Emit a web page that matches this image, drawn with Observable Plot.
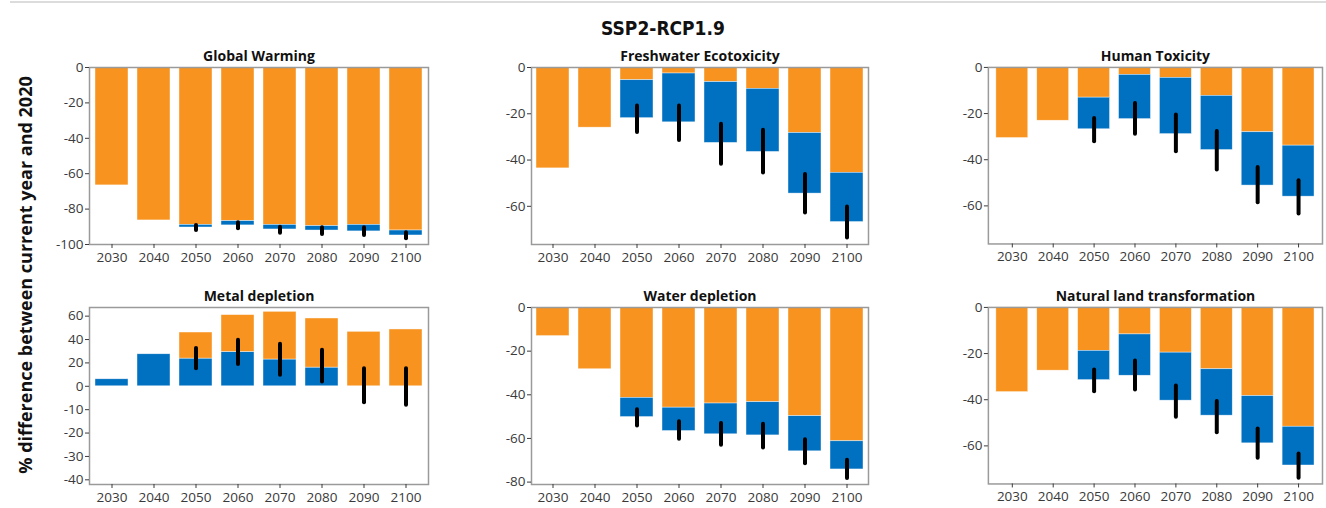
<!DOCTYPE html>
<html><head><meta charset="utf-8">
<script src="https://cdn.jsdelivr.net/npm/d3@7"></script>
<script src="https://cdn.jsdelivr.net/npm/@observablehq/plot@0.6"></script>
<style>
body{margin:0;background:#fff;}
#wrap{position:relative;width:1326px;height:508px;overflow:hidden;font-family:"Open Sans",sans-serif;background:#fff;}
.panel{position:absolute;}
#topline{position:absolute;left:10px;top:1px;width:1316px;height:2px;background:#dcdcdc;}
#title{position:absolute;left:0;width:1326px;top:17px;text-align:center;font-weight:bold;font-size:19px;font-family:"Liberation Sans Narrow","DejaVu Sans Condensed","Open Sans",sans-serif;color:#111;}
#ylabel{position:absolute;left:25px;top:275px;transform:translate(-50%,-50%) rotate(-90deg);white-space:nowrap;font-weight:bold;font-size:18px;color:#111;}
</style></head>
<body>
<div id="wrap">
  <div id="topline"></div>
  <div id="title">SSP2-RCP1.9</div>
  <div id="ylabel">% difference between current year and 2020</div>
</div>
<script>
const years = [2030, 2040, 2050, 2060, 2070, 2080, 2090, 2100];

// Global Warming
const gwFirst  = [-66.6, -86.4, -88.9, -86.8, -88.9, -89.6, -88.9, -92.1];
const gwSecond = [null, null, -90.4, -89.2, -91.5, -92.1, -92.6, -94.9];
const gwErrLo  = [null, null, -92.1, -91.1, -93.6, -94.3, -94.9, -96.8];
const gwErrHi  = [null, null, -89.2, -87.7, -90.2, -90.6, -90.6, -93.4];
const gwTicks  = [0, -20, -40, -60, -80, -100];

// Freshwater Ecotoxicity
const fwFirst  = [-43.6, -26.0, -5.5, -2.6, -6.3, -9.2, -28.3, -45.5];
const fwSecond = [null, null, -21.9, -23.7, -32.6, -36.5, -54.5, -66.8];
const fwErrLo  = [null, null, -28.1, -31.5, -41.8, -45.6, -62.9, -73.7];
const fwErrHi  = [null, null, -16.6, -16.6, -24.5, -27.1, -46.2, -60.3];
const fwTicks  = [0, -20, -40, -60];

// Human Toxicity
const htFirst  = [-30.6, -23.1, -13.1, -3.2, -4.5, -12.3, -28.1, -33.9];
const htSecond = [null, null, -26.8, -22.4, -28.9, -35.8, -51.2, -56.0];
const htErrLo  = [null, null, -32.2, -29.0, -36.5, -44.4, -58.6, -63.5];
const htErrHi  = [null, null, -22.1, -15.6, -20.6, -27.8, -43.4, -49.1];
const htTicks  = [0, -20, -40, -60];

// Metal depletion (blue first, orange stacked on top)
const mdFirst  = [6.0, 27.4, 23.7, 29.4, 22.9, 16.0, 0, 0];
const mdSecond = [null, null, 46.0, 60.9, 63.7, 58.0, 46.6, 48.6];
const mdErrLo  = [null, null, 15.1, 18.6, 9.4, 3.7, -14.0, -16.3];
const mdErrHi  = [null, null, 32.3, 39.4, 36.0, 30.9, 15.1, 15.1];
const mdTicks  = [60, 40, 20, 0, -20, -40, -60, -80];
const mdTickLabels = ["60", "40", "20", "0", "-10", "-20", "-30", "-40"];

// Water depletion
const wdFirst  = [-13.1, -28.3, -41.4, -45.9, -44.0, -43.4, -49.8, -61.3];
const wdSecond = [null, null, -50.2, -56.6, -58.1, -58.6, -65.9, -74.2];
const wdErrLo  = [null, null, -54.3, -60.4, -63.1, -64.4, -71.6, -78.4];
const wdErrHi  = [null, null, -46.8, -52.4, -53.2, -53.5, -60.6, -70.0];
const wdTicks  = [0, -20, -40, -60, -80];

// Natural land transformation
const nlFirst  = [-36.7, -27.4, -18.8, -11.7, -19.6, -26.8, -38.4, -51.7];
const nlSecond = [null, null, -31.5, -29.6, -40.4, -46.9, -58.9, -68.5];
const nlErrLo  = [null, null, -36.5, -35.8, -47.6, -54.3, -65.4, -74.0];
const nlErrHi  = [null, null, -27.1, -23.2, -34.1, -40.8, -52.7, -63.5];
const nlTicks  = [0, -20, -40, -60];

const ORANGE = "#F7931E";
const BLUE = "#0070C0";

const panels = [
  {title: "Global Warming", first: gwFirst, second: gwSecond, lo: gwErrLo, hi: gwErrHi, ticks: gwTicks, labels: null, domain: [-100, 0], firstColor: ORANGE, secondColor: BLUE, col: 0, row: 0},
  {title: "Freshwater Ecotoxicity", first: fwFirst, second: fwSecond, lo: fwErrLo, hi: fwErrHi, ticks: fwTicks, labels: null, domain: [-76.5, 0], firstColor: ORANGE, secondColor: BLUE, col: 1, row: 0},
  {title: "Human Toxicity", first: htFirst, second: htSecond, lo: htErrLo, hi: htErrHi, ticks: htTicks, labels: null, domain: [-76.5, 0], firstColor: ORANGE, secondColor: BLUE, col: 2, row: 0},
  {title: "Metal depletion", first: mdFirst, second: mdSecond, lo: mdErrLo, hi: mdErrHi, ticks: mdTicks, labels: mdTickLabels, domain: [-84, 67.4], firstColor: BLUE, secondColor: ORANGE, col: 0, row: 1},
  {title: "Water depletion", first: wdFirst, second: wdSecond, lo: wdErrLo, hi: wdErrHi, ticks: wdTicks, labels: null, domain: [-81.1, 0], firstColor: ORANGE, secondColor: BLUE, col: 1, row: 1},
  {title: "Natural land transformation", first: nlFirst, second: nlSecond, lo: nlErrLo, hi: nlErrHi, ticks: nlTicks, labels: null, domain: [-76.5, 0], firstColor: ORANGE, secondColor: BLUE, col: 2, row: 1}
];

const colLeft = [89, 531, 988];
const colWidth = [339, 337, 335];
const rowTop = [67, 307];
const frameH = 177;
const mL = 48, mR = 4, mT = 28, mB = 26;

const wrap = document.getElementById("wrap");

for (const p of panels) {
  const rows = years.map((year, i) => ({year, first: p.first[i], second: p.second[i], lo: p.lo[i], hi: p.hi[i]}));
  const secondRows = rows.filter(d => d.second != null);
  const errRows = rows.filter(d => d.lo != null);
  const tickFmt = p.labels ? (v => p.labels[p.ticks.indexOf(v)]) : (v => String(v));
  const chart = Plot.plot({
    width: colWidth[p.col] + mL + mR,
    height: frameH + mT + mB,
    marginLeft: mL, marginRight: mR, marginTop: mT, marginBottom: mB,
    style: {fontFamily: "Open Sans", fontSize: "13.5px", color: "#3a3a3a", background: "transparent", overflow: "visible"},
    x: {type: "band", domain: years, paddingInner: 0.22, paddingOuter: 0.1, label: null},
    y: {domain: p.domain, label: null},
    marks: [
      Plot.barY(rows, {x: "year", y1: 0, y2: "first", fill: p.firstColor, stroke: "#ffffff", strokeWidth: 0.6, strokeOpacity: 0.7}),
      Plot.barY(secondRows, {x: "year", y1: "first", y2: "second", fill: p.secondColor, stroke: "#ffffff", strokeWidth: 0.6, strokeOpacity: 0.7}),
      Plot.ruleX(errRows, {x: "year", y1: "lo", y2: "hi", stroke: "black", strokeWidth: 4, strokeLinecap: "round"}),
      Plot.frame({stroke: "#9a9a9a", strokeWidth: 1.5}),
      Plot.axisY({ticks: p.ticks, tickFormat: tickFmt, tickSize: 4, tickPadding: 2, color: "#3a3a3a", label: null}),
      Plot.axisX({tickSize: 4, tickPadding: 4, tickFormat: v => String(v), color: "#3a3a3a", label: null}),
      Plot.text([p.title], {frameAnchor: "top", lineAnchor: "middle", dy: -11, fontWeight: "bold", fontSize: 14, fill: "#111"})
    ]
  });
  const div = document.createElement("div");
  div.className = "panel";
  div.style.left = (colLeft[p.col] - mL) + "px";
  div.style.top = (rowTop[p.row] - mT) + "px";
  div.appendChild(chart);
  wrap.appendChild(div);
}
</script>
</body></html>
